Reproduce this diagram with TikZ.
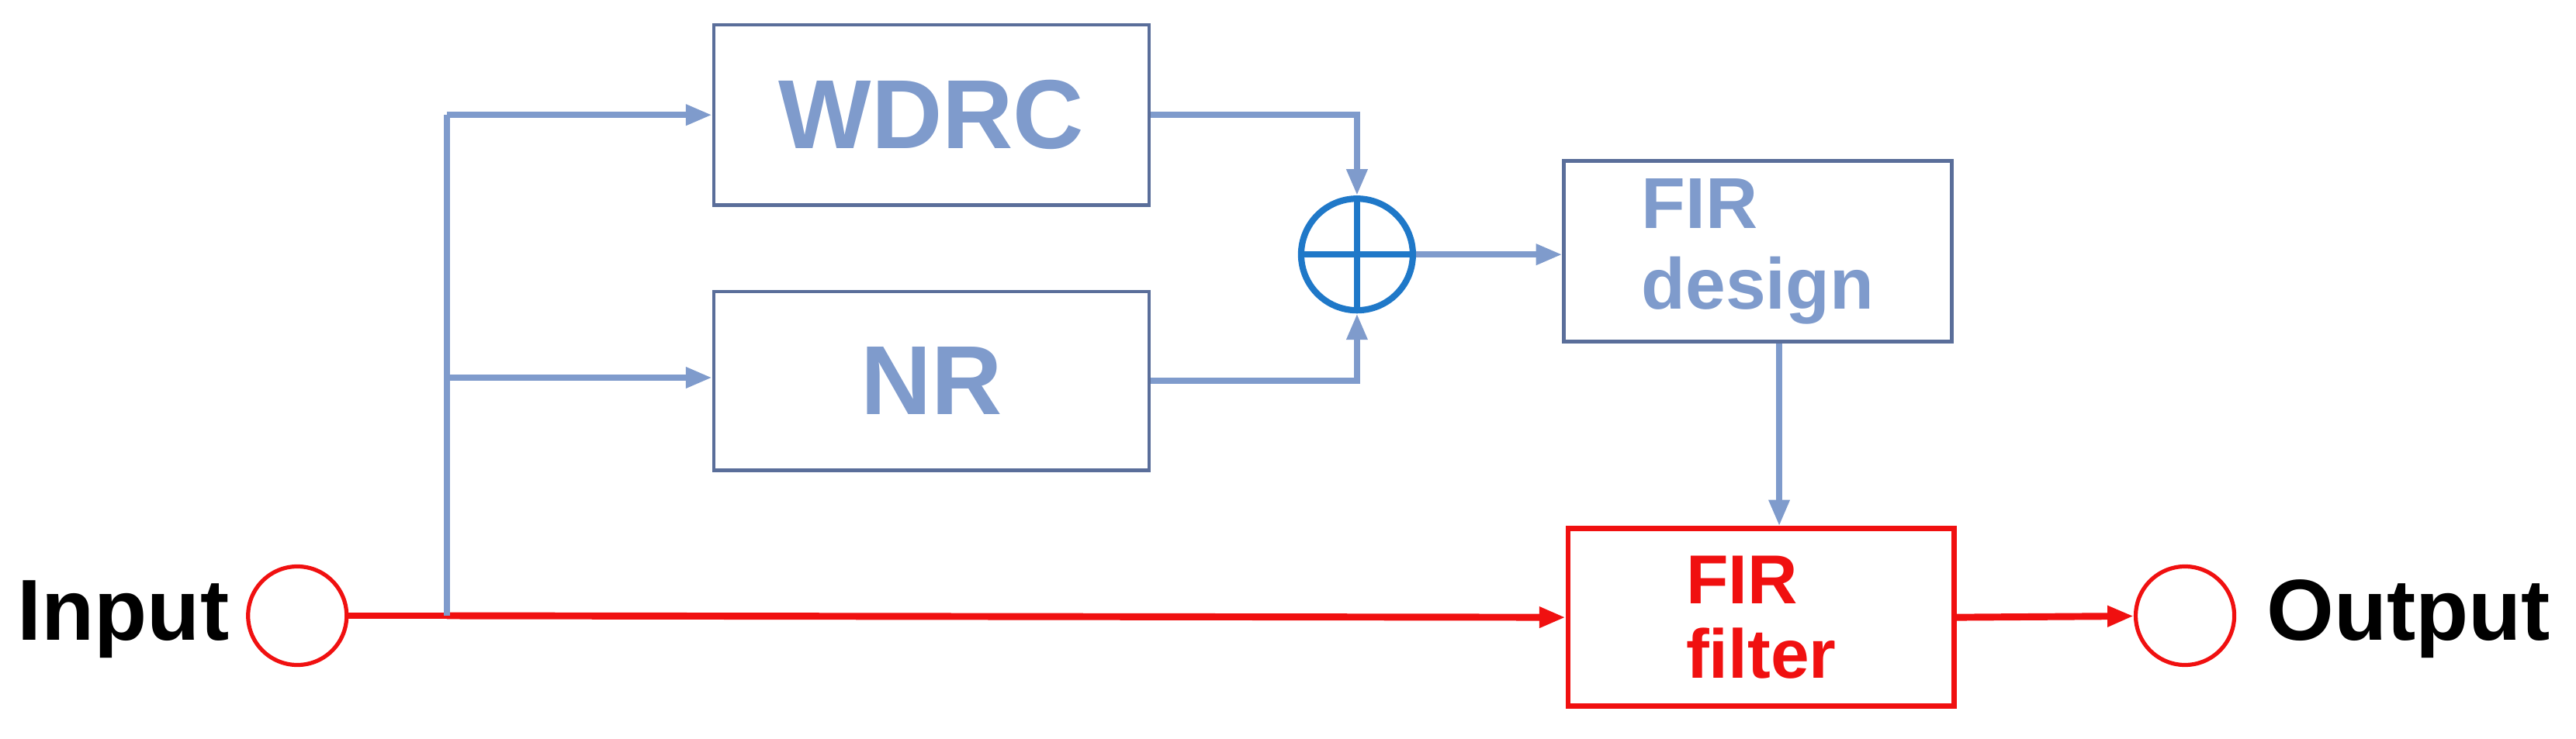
\documentclass[tikz,border=0pt]{standalone}
\usepackage{fontspec}
\setmainfont{Liberation Sans}
\usetikzlibrary{arrows.meta}
\definecolor{bl}{HTML}{7F9BCC}
\definecolor{bb}{HTML}{5A6E9A}
\definecolor{sm}{HTML}{1F78C8}
\definecolor{rd}{HTML}{F01010}
\begin{document}
\begin{tikzpicture}[x=0.1mm,y=-0.1mm,
 blk/.style={draw=bb,line width=0.6pt,inner sep=0,font=\bfseries\fontsize{17}{19}\selectfont,text=bl},
 bar/.style={bl,line width=1.1pt,-{Triangle[length=1.6mm,width=1.2mm]}},
 bln/.style={bl,line width=1.1pt},
 rar/.style={rd,line width=1.2pt,-{Triangle[length=1.6mm,width=1.2mm]}}]
\useasboundingbox (0,0) rectangle (1568,450);
\node[font=\bfseries\fontsize{15}{17}\selectfont] (in) at (75,377) {Input};
\node[draw=rd,circle,minimum size=6mm,inner sep=0,line width=0.7pt] (ci) at (181,375) {};
\node[draw=rd,line width=0.9pt,minimum width=23.5mm,minimum height=10.8mm,inner sep=0,text=rd,font=\bfseries\fontsize{12}{13}\selectfont,align=left] (fir) at (1072,376) {FIR\\filter};
\node[draw=rd,circle,minimum size=6mm,inner sep=0,line width=0.7pt] (co) at (1330,375) {};
\node[font=\bfseries\fontsize{15}{17}\selectfont] (out) at (1466,377) {Output};
\node[blk,minimum width=26.5mm,minimum height=11mm] (w) at (567,70) {WDRC};
\node[blk,minimum width=26.5mm,minimum height=10.9mm] (nr) at (567,232) {NR};
\node[draw=sm,circle,minimum size=6.8mm,inner sep=0,line width=1.1pt] (s) at (826,155) {};
\draw[sm,line width=1.1pt] (s.north) -- (s.south) (s.west) -- (s.east);
\node[blk,minimum width=23.6mm,minimum height=11mm,align=left,font=\bfseries\fontsize{12.5}{14}\selectfont] (fd) at (1070,153) {FIR\\design};
\coordinate (j) at (272,375);
\draw[rd,line width=1.2pt] (ci) -- (j);
\draw[rar] (j) -- (fir.west);
\draw[rar] (fir.east) -- (co);
\draw[bln] (j) -- (272,70);
\draw[bar] (272,70) -- (w.west);
\draw[bar] (272,230) -- (nr.west|-272,230);
\draw[bar] (w.east) -- (826,70) -- (s.north);
\draw[bar] (nr.east) -- (826,232) -- (s.south);
\draw[bar] (s.east) -- (fd.west|-s.east);
\draw[bar] (fd.south-|1083,0) -- (fir.north-|1083,0);
\end{tikzpicture}
\end{document}
